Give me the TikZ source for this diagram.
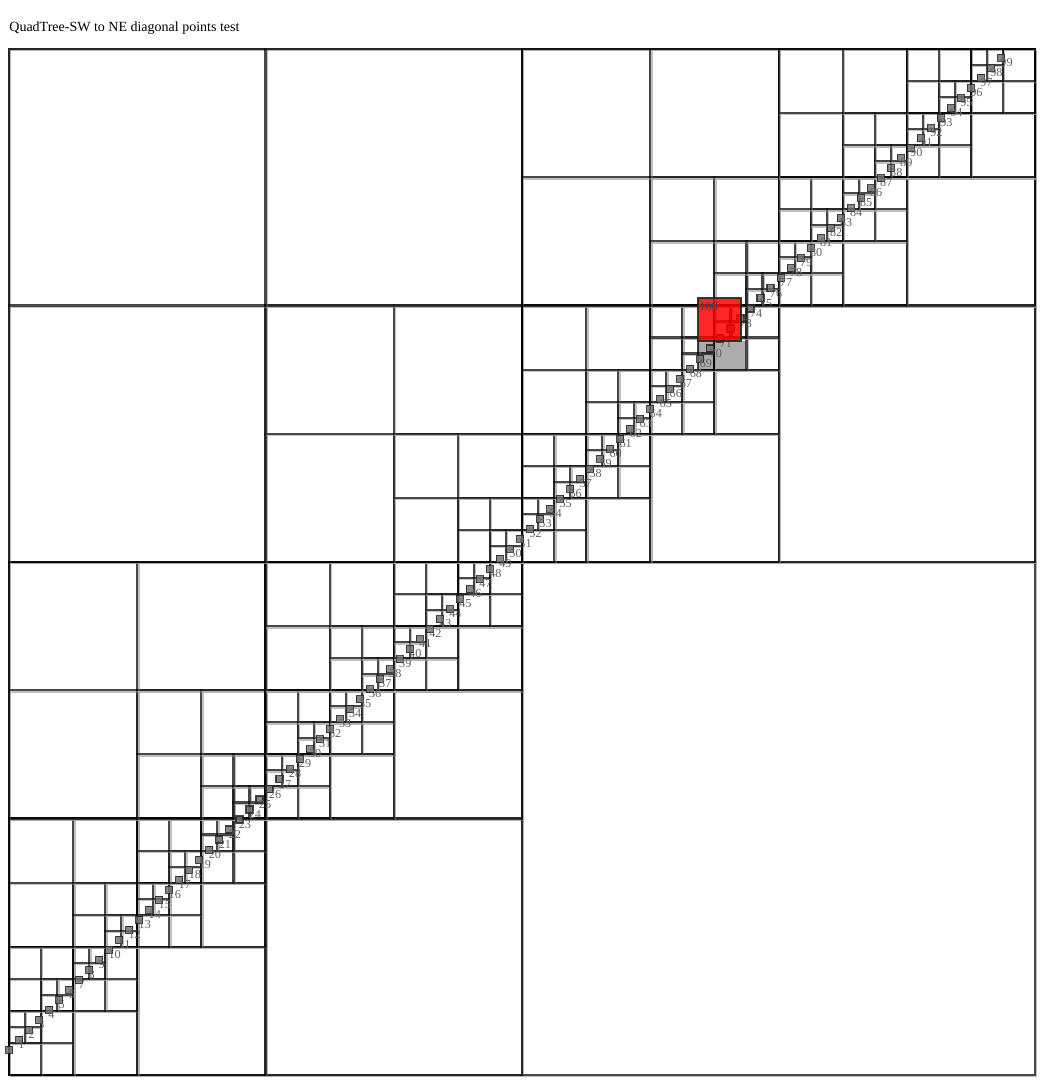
\documentclass[tikz,border=0pt]{standalone}
\usepackage{fontspec}
\setmainfont{Liberation Serif}
\usepackage{tikz}

% one quadtree cell (u, v, size); split while it holds more than one point
\newcommand\qtcell[3]{%
  \draw[cellshadow] (#1,#2) rectangle ++(#3,#3);
  \draw[cellline] (#1,#2) rectangle ++(#3,#3);
  \begingroup
    \pgfmathtruncatemacro\qtn{ceil(min(#1+#3,#2+#3-25,1000)/10)-ceil(max(#1,#2-25,0)/10)}%
    \ifnum\qtn>1
      \pgfmathtruncatemacro\qth{#3/2}%
      \pgfmathtruncatemacro\qtx{#1+\qth}%
      \pgfmathtruncatemacro\qty{#2+\qth}%
      \edef\qtnext{%
        \noexpand\qtcell{#1}{#2}{\qth}%
        \noexpand\qtcell{\qtx}{#2}{\qth}%
        \noexpand\qtcell{#1}{\qty}{\qth}%
        \noexpand\qtcell{\qtx}{\qty}{\qth}}%
      \qtnext
    \fi
  \endgroup}

\begin{document}
\begin{tikzpicture}[
        x=0.5pt, y=-0.5pt,
        cellline/.style={draw=black, draw opacity=0.47, line width=1.05pt},
        cellshadow/.style={draw=black!35, draw opacity=0.45, line width=0.9pt, shift={(1.5,-1.5)}},
        ptmark/.style={draw=black!85, fill=black!55, line width=0.55pt, opacity=0.85, minimum size=3.5pt, inner sep=0pt, outer sep=0pt},
        ptlabel/.style={anchor=base west, inner sep=0pt, text=black!62, font=\fontsize{6.1pt}{6.1pt}\selectfont},
        querybox/.style={draw=black!85, line width=1pt, fill=red, fill opacity=0.85, draw opacity=0.9, minimum size=21.5pt, inner sep=0pt},
        foundbox/.style={fill=black!40, fill opacity=0.8}
    ]
    \useasboundingbox (0,0) rectangle (1044,1080);

    % Titulo
    \node[anchor=base west, inner sep=0pt, font=\fontsize{7pt}{7pt}\selectfont] (title) at (9,31.5) {QuadTree-SW to NE diagonal points test};

    % area encontrada
    \fill[foundbox] (698,341) rectangle (745,372);

    \begin{scope}[shift={(9,1075)}, x=0.501pt, y=0.501pt]
        % arvore
        \qtcell{0}{0}{1024}

        % pontos
        \foreach \i in {0,...,99}
            \node[ptmark] (p\i) at (10*\i, 10*\i+25) {};
        \foreach \i in {1,...,99}
            \node[ptlabel, xshift=-0.5pt, yshift=-4.3pt] (l\i) at (p\i.center) {\i};
    \end{scope}

    % consulta
    \node[querybox] (query) at (719.5,319.5) {};
    \node[anchor=base west, inner sep=0pt, text=black!75, font=\fontsize{6.1pt}{6.1pt}\selectfont] (querylabel) at (699,311) {100};
\end{tikzpicture}
\end{document}
